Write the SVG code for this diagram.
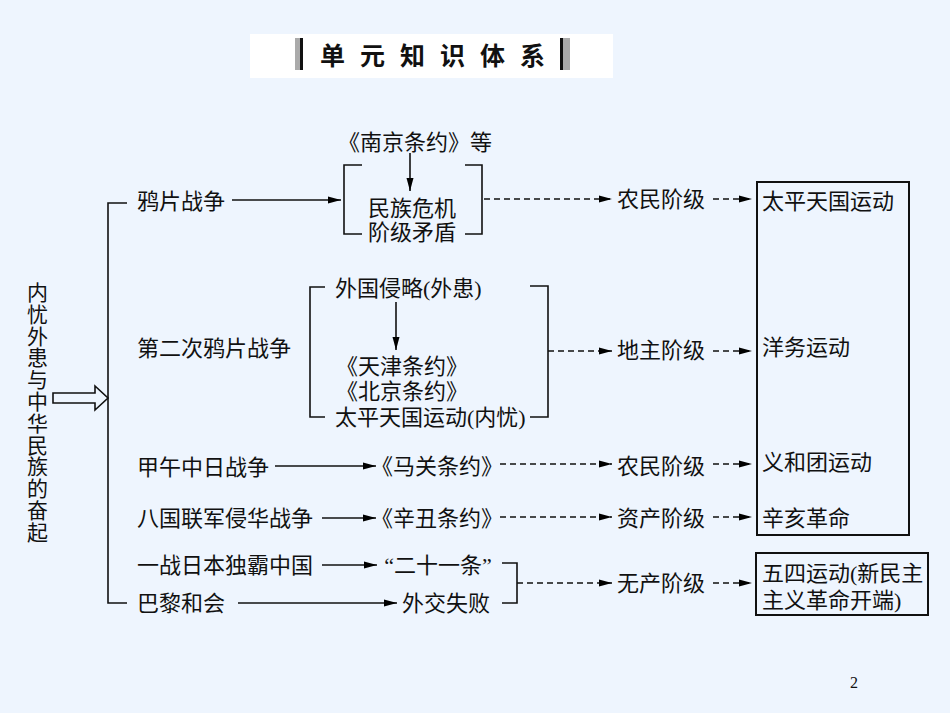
<svg xmlns="http://www.w3.org/2000/svg" width="950" height="713" viewBox="0 0 950 713">
<defs>
<marker id="ah" markerUnits="userSpaceOnUse" markerWidth="14" markerHeight="10" refX="13" refY="5" orient="auto">
<path d="M0,1.5 L13,5 L0,8.5 Z" fill="#000"/>
</marker>
<style>
.t{font-family:"Liberation Serif","Noto Sans CJK SC",serif;font-size:22px;fill:#111;dominant-baseline:central}
.m{text-anchor:middle}
.ln{fill:none;stroke:#111;stroke-width:1.6}
.da{fill:none;stroke:#111;stroke-width:1.6;stroke-dasharray:6 4}
.ar{marker-end:url(#ah)}
</style>
</defs>
<rect width="950" height="713" fill="#EEF5FE"/>
<g id="title">
<rect x="250" y="34" width="363" height="44" fill="#fff"/>
<rect x="295" y="38" width="5" height="32" fill="#aaa"/>
<rect x="300" y="38" width="3" height="32" fill="#111"/>
<rect x="560" y="38" width="3" height="32" fill="#111"/>
<rect x="563" y="38" width="7" height="32" fill="#aaa"/>
<text x="320" y="54" style="font-family:'Noto Sans CJK SC',sans-serif;font-size:25px;font-weight:bold;letter-spacing:15px;dominant-baseline:central;fill:#111">单元知识体系</text>
</g>
<g id="left-label">
<text class="t" x="37.5" y="293" text-anchor="middle" style="font-size:21px"><tspan x="37.5">内</tspan><tspan x="37.5" dy="21.8">忧</tspan><tspan x="37.5" dy="21.8">外</tspan><tspan x="37.5" dy="21.8">患</tspan><tspan x="37.5" dy="21.8">与</tspan><tspan x="37.5" dy="21.8">中</tspan><tspan x="37.5" dy="21.8">华</tspan><tspan x="37.5" dy="21.8">民</tspan><tspan x="37.5" dy="21.8">族</tspan><tspan x="37.5" dy="21.8">的</tspan><tspan x="37.5" dy="21.8">奋</tspan><tspan x="37.5" dy="21.8">起</tspan></text>
</g>
<g id="connectors">
<polygon class="ln" points="53,393 95,393 95,386 108,398 95,410 95,403 53,403"/>
<path class="ln" d="M127,203 H108 V603 H127"/>
<path class="ln ar" d="M232,200 H341"/>
<path class="ln ar" d="M410,153 V191"/>
<path class="ln" d="M362,165 H344 V234 H362"/>
<path class="ln" d="M465,165 H482 V234 H465"/>
<path class="da ar" d="M484,199 H612"/>
<path class="da ar" d="M713,199 H752"/>
<path class="ln" d="M325,287 H310 V417 H325"/>
<path class="ln" d="M530,286 H548 V417 H530"/>
<path class="ln ar" d="M396,302 V350"/>
<path class="da ar" d="M548,351 H612"/>
<path class="da ar" d="M713,351 H752"/>
<path class="ln ar" d="M275,466 H376"/>
<path class="da ar" d="M500,464 H612"/>
<path class="da ar" d="M713,464 H752"/>
<path class="ln ar" d="M322,518 H376"/>
<path class="da ar" d="M500,517 H612"/>
<path class="da ar" d="M713,517 H752"/>
<path class="ln ar" d="M322,565 H377"/>
<path class="ln" d="M502,563 H517 V603 H502"/>
<path class="da ar" d="M517,583 H612"/>
<path class="da ar" d="M713,583 H752"/>
<path class="ln ar" d="M238,603 H397"/>
</g>
<g id="n-yapian"><text class="t" x="137" y="201">鸦片战争</text></g>
<g id="n-nanjing"><text class="t m" x="415" y="142">《南京条约》等</text></g>
<g id="n-crisis"><text class="t m" x="412" y="208">民族危机</text><text class="t m" x="412" y="232">阶级矛盾</text></g>
<g id="n-second"><text class="t" x="137" y="348">第二次鸦片战争</text></g>
<g id="n-waiguo"><text class="t" x="335" y="288">外国侵略(外患)</text></g>
<g id="n-treaties2"><text class="t m" x="402" y="366">《天津条约》</text><text class="t m" x="402" y="391">《北京条约》</text></g>
<g id="n-taiping-inner"><text class="t" x="335" y="417">太平天国运动(内忧)</text></g>
<g id="n-jiawu"><text class="t" x="137" y="467">甲午中日战争</text></g>
<g id="n-maguan"><text class="t m" x="437" y="466">《马关条约》</text></g>
<g id="n-baguo"><text class="t" x="137" y="518">八国联军侵华战争</text></g>
<g id="n-xinchou"><text class="t m" x="437" y="518">《辛丑条约》</text></g>
<g id="n-yizhan"><text class="t" x="137" y="565">一战日本独霸中国</text></g>
<g id="n-21"><text class="t m" x="438" y="565">“二十一条”</text></g>
<g id="n-bali"><text class="t" x="137" y="603">巴黎和会</text></g>
<g id="n-waijiao"><text class="t" x="402" y="603">外交失败</text></g>
<g id="n-class1"><text class="t" x="617" y="199">农民阶级</text></g>
<g id="n-class2"><text class="t" x="617" y="350">地主阶级</text></g>
<g id="n-class3"><text class="t" x="617" y="466">农民阶级</text></g>
<g id="n-class4"><text class="t" x="617" y="518">资产阶级</text></g>
<g id="n-class5"><text class="t" x="617" y="583">无产阶级</text></g>
<g id="n-box1">
<rect x="757" y="182" width="152" height="353" fill="none" stroke="#111" stroke-width="2"/>
<text class="t" x="762" y="201">太平天国运动</text>
<text class="t" x="762" y="347">洋务运动</text>
<text class="t" x="762" y="462">义和团运动</text>
<text class="t" x="762" y="518">辛亥革命</text>
</g>
<g id="n-box2">
<rect x="756" y="553" width="172" height="62" fill="none" stroke="#111" stroke-width="2"/>
<text class="t" x="762" y="573">五四运动(新民主</text>
<text class="t" x="762" y="600">主义革命开端)</text>
</g>
<g id="page"><text x="850" y="688" style="font-family:'Liberation Serif',serif;font-size:16px;fill:#111">2</text></g>
</svg>
